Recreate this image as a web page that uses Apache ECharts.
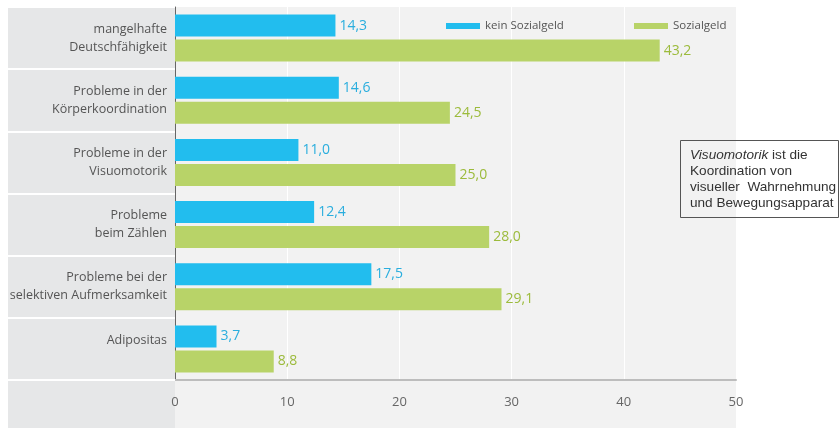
<!DOCTYPE html>
<html><head><meta charset="utf-8">
<script src="https://cdn.jsdelivr.net/npm/echarts@6/dist/echarts.min.js"></script>
<style>html,body{margin:0;padding:0;background:#fff}#c{width:840px;height:428px}</style>
</head><body><div id="c"></div>
<script>
const categories = ['mangelhafte\nDeutschfähigkeit','Probleme in der\nKörperkoordination','Probleme in der\nVisuomotorik','Probleme\nbeim Zählen','Probleme bei der\nselektiven Aufmerksamkeit','Adipositas'];
const seriesNames = ['kein Sozialgeld','Sozialgeld'];
const keinSozialgeld = [14.3,14.6,11.0,12.4,17.5,3.7];
const sozialgeld = [43.2,24.5,25.0,28.0,29.1,8.8];
const xTicks = [0,10,20,30,40,50];

const FONT = "'Open Sans', 'DejaVu Sans Condensed', sans-serif";
const NOTEFONT = "'Liberation Sans', Arial, sans-serif";
const BLUE = '#22bdee', GREEN = '#b8d368';
const chart = echarts.init(document.getElementById('c'), null, {renderer:'canvas'});
const fmt = p => String(p.value.toFixed(1)).replace('.', ',');
chart.setOption({
  animation:false,
  textStyle:{fontFamily:FONT},
  grid:{left:175, right:104, top:7, bottom:48, containLabel:false},
  graphic:[
    {type:'rect', z:-10, silent:true, shape:{x:8,y:7,width:167,height:421}, style:{fill:'#e6e7e8'}},
    {type:'rect', z:-10, silent:true, shape:{x:175,y:7,width:561,height:421}, style:{fill:'#f2f2f2'}},
    {type:'rect', z:100, shape:{x:680.5,y:140.5,width:158,height:77}, style:{fill:'none', stroke:'#555', lineWidth:1}},
    {type:'text', z:101, left:690, top:147, style:{
      text:'{i|Visuomotorik} ist die\nKoordination von\nvisueller  Wahrnehmung\nund Bewegungsapparat',
      font:"13.6px " + NOTEFONT, fill:'#333', lineHeight:16,
      rich:{i:{fontStyle:'italic', fontFamily:NOTEFONT, fontSize:13.6, fill:'#333', lineHeight:16}}
    }}
  ],
  legend:[
    {data:[seriesNames[0]], left:441, top:15, itemWidth:34, itemHeight:6, itemGap:0, icon:'rect',
     textStyle:{color:'#555', fontSize:11.5, fontFamily:FONT}},
    {data:[seriesNames[1]], left:629, top:15, itemWidth:34, itemHeight:6, itemGap:0, icon:'rect',
     textStyle:{color:'#555', fontSize:11.5, fontFamily:FONT}}
  ],
  xAxis:{type:'value', min:0, max:50, interval:10,
    axisLine:{show:true, lineStyle:{color:'#bdbdbd', width:2}},
    axisTick:{show:false},
    splitLine:{show:true, lineStyle:{color:'#ffffff', width:1}},
    axisLabel:{color:'#666', fontSize:13, margin:16, fontFamily:FONT,
      formatter: v => xTicks.includes(v) ? String(v) : ''}
  },
  yAxis:{type:'category', data:categories, inverse:true,
    axisLine:{show:true, lineStyle:{color:'#666', width:1}},
    axisTick:{show:true, length:167, lineStyle:{color:'#ffffff', width:2}},
    axisLabel:{color:'#555', fontSize:12.5, margin:8, lineHeight:18, fontFamily:FONT,
      formatter: v => v.indexOf('\n') < 0 ? '{s|' + v + '}' : v,
      rich:{s:{color:'#555', fontSize:12.5, fontFamily:FONT, padding:[0,0,16,0]}}
    }
  },
  series:[
    {name:seriesNames[0], type:'bar', data:keinSozialgeld, barWidth:22, barGap:'14%',
     itemStyle:{color:BLUE},
     label:{show:true, position:'right', distance:4, color:'#2aaede', fontSize:14, fontFamily:FONT, formatter:fmt}},
    {name:seriesNames[1], type:'bar', data:sozialgeld, barWidth:22, barGap:'14%',
     itemStyle:{color:GREEN},
     label:{show:true, position:'right', distance:4, color:'#9cbb3c', fontSize:14, fontFamily:FONT, formatter:fmt}}
  ]
});
</script></body></html>
